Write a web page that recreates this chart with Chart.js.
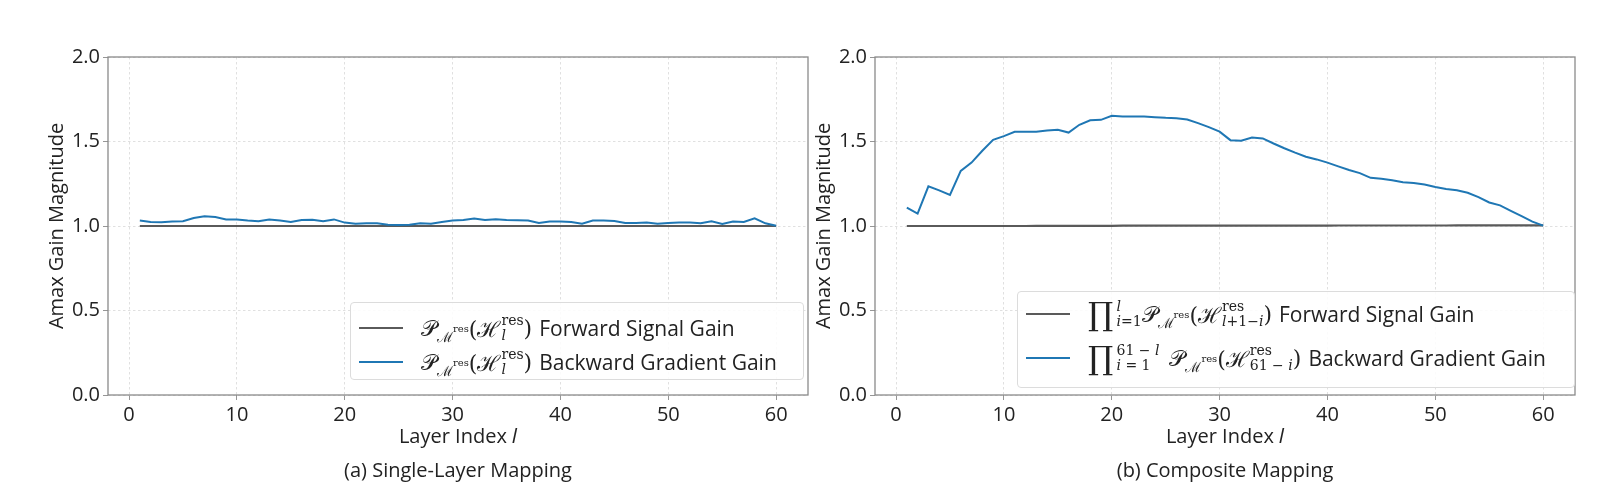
<!DOCTYPE html>
<html>
<head>
<meta charset="utf-8">
<script src="https://cdn.jsdelivr.net/npm/chart.js@4.4.1/dist/chart.umd.min.js"></script>
<style>
  body { margin: 0; background: #fff; }
  #wrap { position: relative; width: 1600px; height: 504px; font-family: "Open Sans", "Noto Sans", sans-serif; color: #222; }
  canvas { position: absolute; left: 0; top: 0; }
  .caption { position: absolute; font-size: 20px; transform: translateX(-50%); white-space: nowrap; }
  .legend { position: absolute; background: rgba(255,255,255,0.85); border: 1px solid #dcdcdc; border-radius: 4px; font-size: 21px; overflow: hidden; }
  .row { position: absolute; left: 8px; display: flex; align-items: center; white-space: nowrap; }
  .swatch { width: 44px; height: 2px; margin-right: 18px; }
  .m { font-family: "DejaVu Serif", "Liberation Serif", serif; font-size: 22px; display: inline-flex; align-items: center; margin-right: 7px; }
  .stack { display: inline-flex; flex-direction: column; font-size: 14px; line-height: 1.05; margin-left: 1px; }
  .stack i, .low i { font-style: italic; }
  .low { font-size: 14px; position: relative; top: 8px; }
  .low sup { font-size: 10px; position: relative; top: -4px; }
  .prod { font-size: 32px; margin-right: 2px; }
</style>
</head>
<body>
<div id="wrap">
  <canvas id="c1" width="1600" height="504"></canvas>
  <canvas id="c2" width="1600" height="504"></canvas>

  <div class="legend" style="left:350px; top:302px; width:452px; height:76px;">
    <div class="row" style="top:10px;"><div class="swatch" style="background:#5a5a5a;"></div>
      <span class="m">𝒫<span class="low">ℳ<sup>res</sup></span>(ℋ<span class="stack"><span>res</span><i>l</i></span>)</span>Forward Signal Gain</div>
    <div class="row" style="top:44px;"><div class="swatch" style="background:#1f77b4;"></div>
      <span class="m">𝒫<span class="low">ℳ<sup>res</sup></span>(ℋ<span class="stack"><span>res</span><i>l</i></span>)</span>Backward Gradient Gain</div>
  </div>

  <div class="legend" style="left:1017px; top:291px; width:556px; height:95px;">
    <div class="row" style="top:3px;"><div class="swatch" style="background:#5a5a5a;"></div>
      <span class="m"><span class="prod">∏</span><span class="stack"><i>l</i><span><i>i</i>=1</span></span>𝒫<span class="low">ℳ<sup>res</sup></span>(ℋ<span class="stack"><span>res</span><span><i>l</i>+1−<i>i</i></span></span>)</span>Forward Signal Gain</div>
    <div class="row" style="top:47px;"><div class="swatch" style="background:#1f77b4;"></div>
      <span class="m"><span class="prod">∏</span><span class="stack"><span>61 − <i>l</i></span><span><i>i</i> = 1</span></span><span style="margin-left:10px;">𝒫</span><span class="low">ℳ<sup>res</sup></span>(ℋ<span class="stack"><span>res</span><span>61 − <i>i</i></span></span>)</span>Backward Gradient Gain</div>
  </div>

  <div class="caption" style="left:458px; top:456px;">(a) Single-Layer Mapping</div>
  <div class="caption" style="left:1225px; top:456px;">(b) Composite Mapping</div>
</div>

<script>
// layer indices on the x axis
const layers = [1,2,3,4,5,6,7,8,9,10,11,12,13,14,15,16,17,18,19,20,
                21,22,23,24,25,26,27,28,29,30,31,32,33,34,35,36,37,38,39,40,
                41,42,43,44,45,46,47,48,49,50,51,52,53,54,55,56,57,58,59,60];

// (a) single-layer mapping
const fwdSingle = [1.000,1.000,1.000,1.000,1.000,1.000,1.000,1.000,1.000,1.000,
                   1.000,1.000,1.000,1.000,1.000,1.000,1.000,1.000,1.000,1.000,
                   1.000,1.000,1.000,1.000,1.000,1.000,1.000,1.000,1.000,1.000,
                   1.000,1.000,1.000,1.000,1.000,1.000,1.000,1.000,1.000,1.000,
                   1.000,1.000,1.000,1.000,1.000,1.000,1.000,1.000,1.000,1.000,
                   1.000,1.000,1.000,1.000,1.000,1.000,1.000,1.000,1.000,1.000];
const bwdSingle = [1.032,1.024,1.022,1.026,1.028,1.047,1.057,1.053,1.039,1.039,
                   1.032,1.028,1.039,1.032,1.024,1.036,1.037,1.028,1.039,1.020,
                   1.014,1.016,1.016,1.008,1.006,1.008,1.016,1.014,1.024,1.032,
                   1.036,1.045,1.036,1.040,1.036,1.034,1.032,1.018,1.026,1.026,
                   1.024,1.014,1.032,1.032,1.030,1.018,1.018,1.020,1.014,1.018,
                   1.020,1.020,1.016,1.028,1.012,1.026,1.024,1.045,1.016,1.002];

// (b) composite mapping
const fwdComposite = [1.000,1.000,1.000,1.000,1.000,1.000,1.000,1.000,1.000,1.000,
                      1.000,1.000,1.001,1.001,1.001,1.001,1.001,1.001,1.001,1.001,
                      1.002,1.002,1.002,1.002,1.002,1.002,1.002,1.002,1.002,1.002,
                      1.002,1.002,1.002,1.002,1.002,1.002,1.002,1.002,1.002,1.002,
                      1.003,1.003,1.003,1.003,1.003,1.003,1.003,1.003,1.003,1.003,
                      1.003,1.004,1.004,1.004,1.004,1.004,1.004,1.004,1.004,1.004];
const bwdComposite = [1.109,1.073,1.235,1.211,1.184,1.326,1.375,1.445,1.510,1.532,
                      1.557,1.557,1.557,1.565,1.569,1.553,1.599,1.626,1.628,1.652,
                      1.648,1.648,1.648,1.644,1.640,1.638,1.630,1.609,1.585,1.558,
                      1.508,1.504,1.524,1.518,1.488,1.460,1.434,1.410,1.394,1.375,
                      1.353,1.331,1.313,1.285,1.279,1.271,1.259,1.255,1.245,1.231,
                      1.219,1.211,1.197,1.171,1.139,1.122,1.090,1.058,1.026,1.002];

const xTicks = [0, 10, 20, 30, 40, 50, 60];
const yTicks = [0.0, 0.5, 1.0, 1.5, 2.0];

const FONT = '"Open Sans", "Noto Sans", sans-serif';
const GRID = '#dcdcdc';
const SPINE = '#8a8a8a';

// box round the plot area (matplotlib spines)
const frame = {
  id: 'frame',
  afterDraw(chart) {
    const { ctx, chartArea: a } = chart;
    ctx.save();
    ctx.strokeStyle = SPINE;
    ctx.lineWidth = 1.3;
    ctx.strokeRect(a.left, a.top, a.right - a.left, a.bottom - a.top);
    ctx.restore();
  }
};

function pts(vals) {
  return layers.map((l, i) => ({ x: l, y: vals[i] }));
}

function makeChart(id, fwd, bwd, padLeft, padRight) {
  new Chart(document.getElementById(id), {
    type: 'line',
    data: {
      datasets: [
        { data: pts(bwd), borderColor: '#1f77b4', borderWidth: 2, pointRadius: 0, order: 0 },
        { data: pts(fwd), borderColor: '#5a5a5a', borderWidth: 2.2, pointRadius: 0, order: 1 }
      ]
    },
    options: {
      responsive: false,
      animation: false,
      layout: { padding: { left: padLeft, right: padRight, top: 57, bottom: 0 } },
      plugins: { legend: { display: false }, tooltip: { enabled: false } },
      scales: {
        x: {
          type: 'linear',
          min: -1.95, max: 62.95,
          afterFit(s) { s.height = 109; },
          afterBuildTicks(s) { s.ticks = xTicks.map(v => ({ value: v })); },
          ticks: { color: '#222', font: { family: FONT, size: 20 }, padding: 3, maxRotation: 0 },
          grid: { color: GRID, lineWidth: 0.9, tickLength: 5, tickColor: SPINE },
          border: { display: false, dash: [2.5, 2.5] },
          title: { display: true, text: 'Layer Index 𝑙', color: '#222', font: { family: FONT, size: 20 }, padding: { top: 55, bottom: 55 } }
        },
        y: {
          min: 0, max: 2,
          afterFit(s) { s.width = 108; },
          afterBuildTicks(s) { s.ticks = yTicks.map(v => ({ value: v })); },
          ticks: { color: '#222', font: { family: FONT, size: 20 }, padding: 3, callback: v => v.toFixed(1) },
          grid: { color: GRID, lineWidth: 0.9, tickLength: 5, tickColor: SPINE },
          border: { display: false, dash: [2.5, 2.5] },
          title: { display: true, text: 'Amax Gain Magnitude', color: '#222', font: { family: FONT, size: 20 }, padding: { top: 45, bottom: 45 } }
        }
      }
    },
    plugins: [frame]
  });
}

makeChart('c1', fwdSingle, bwdSingle, 0, 792);
makeChart('c2', fwdComposite, bwdComposite, 767, 25);
</script>
</body>
</html>
